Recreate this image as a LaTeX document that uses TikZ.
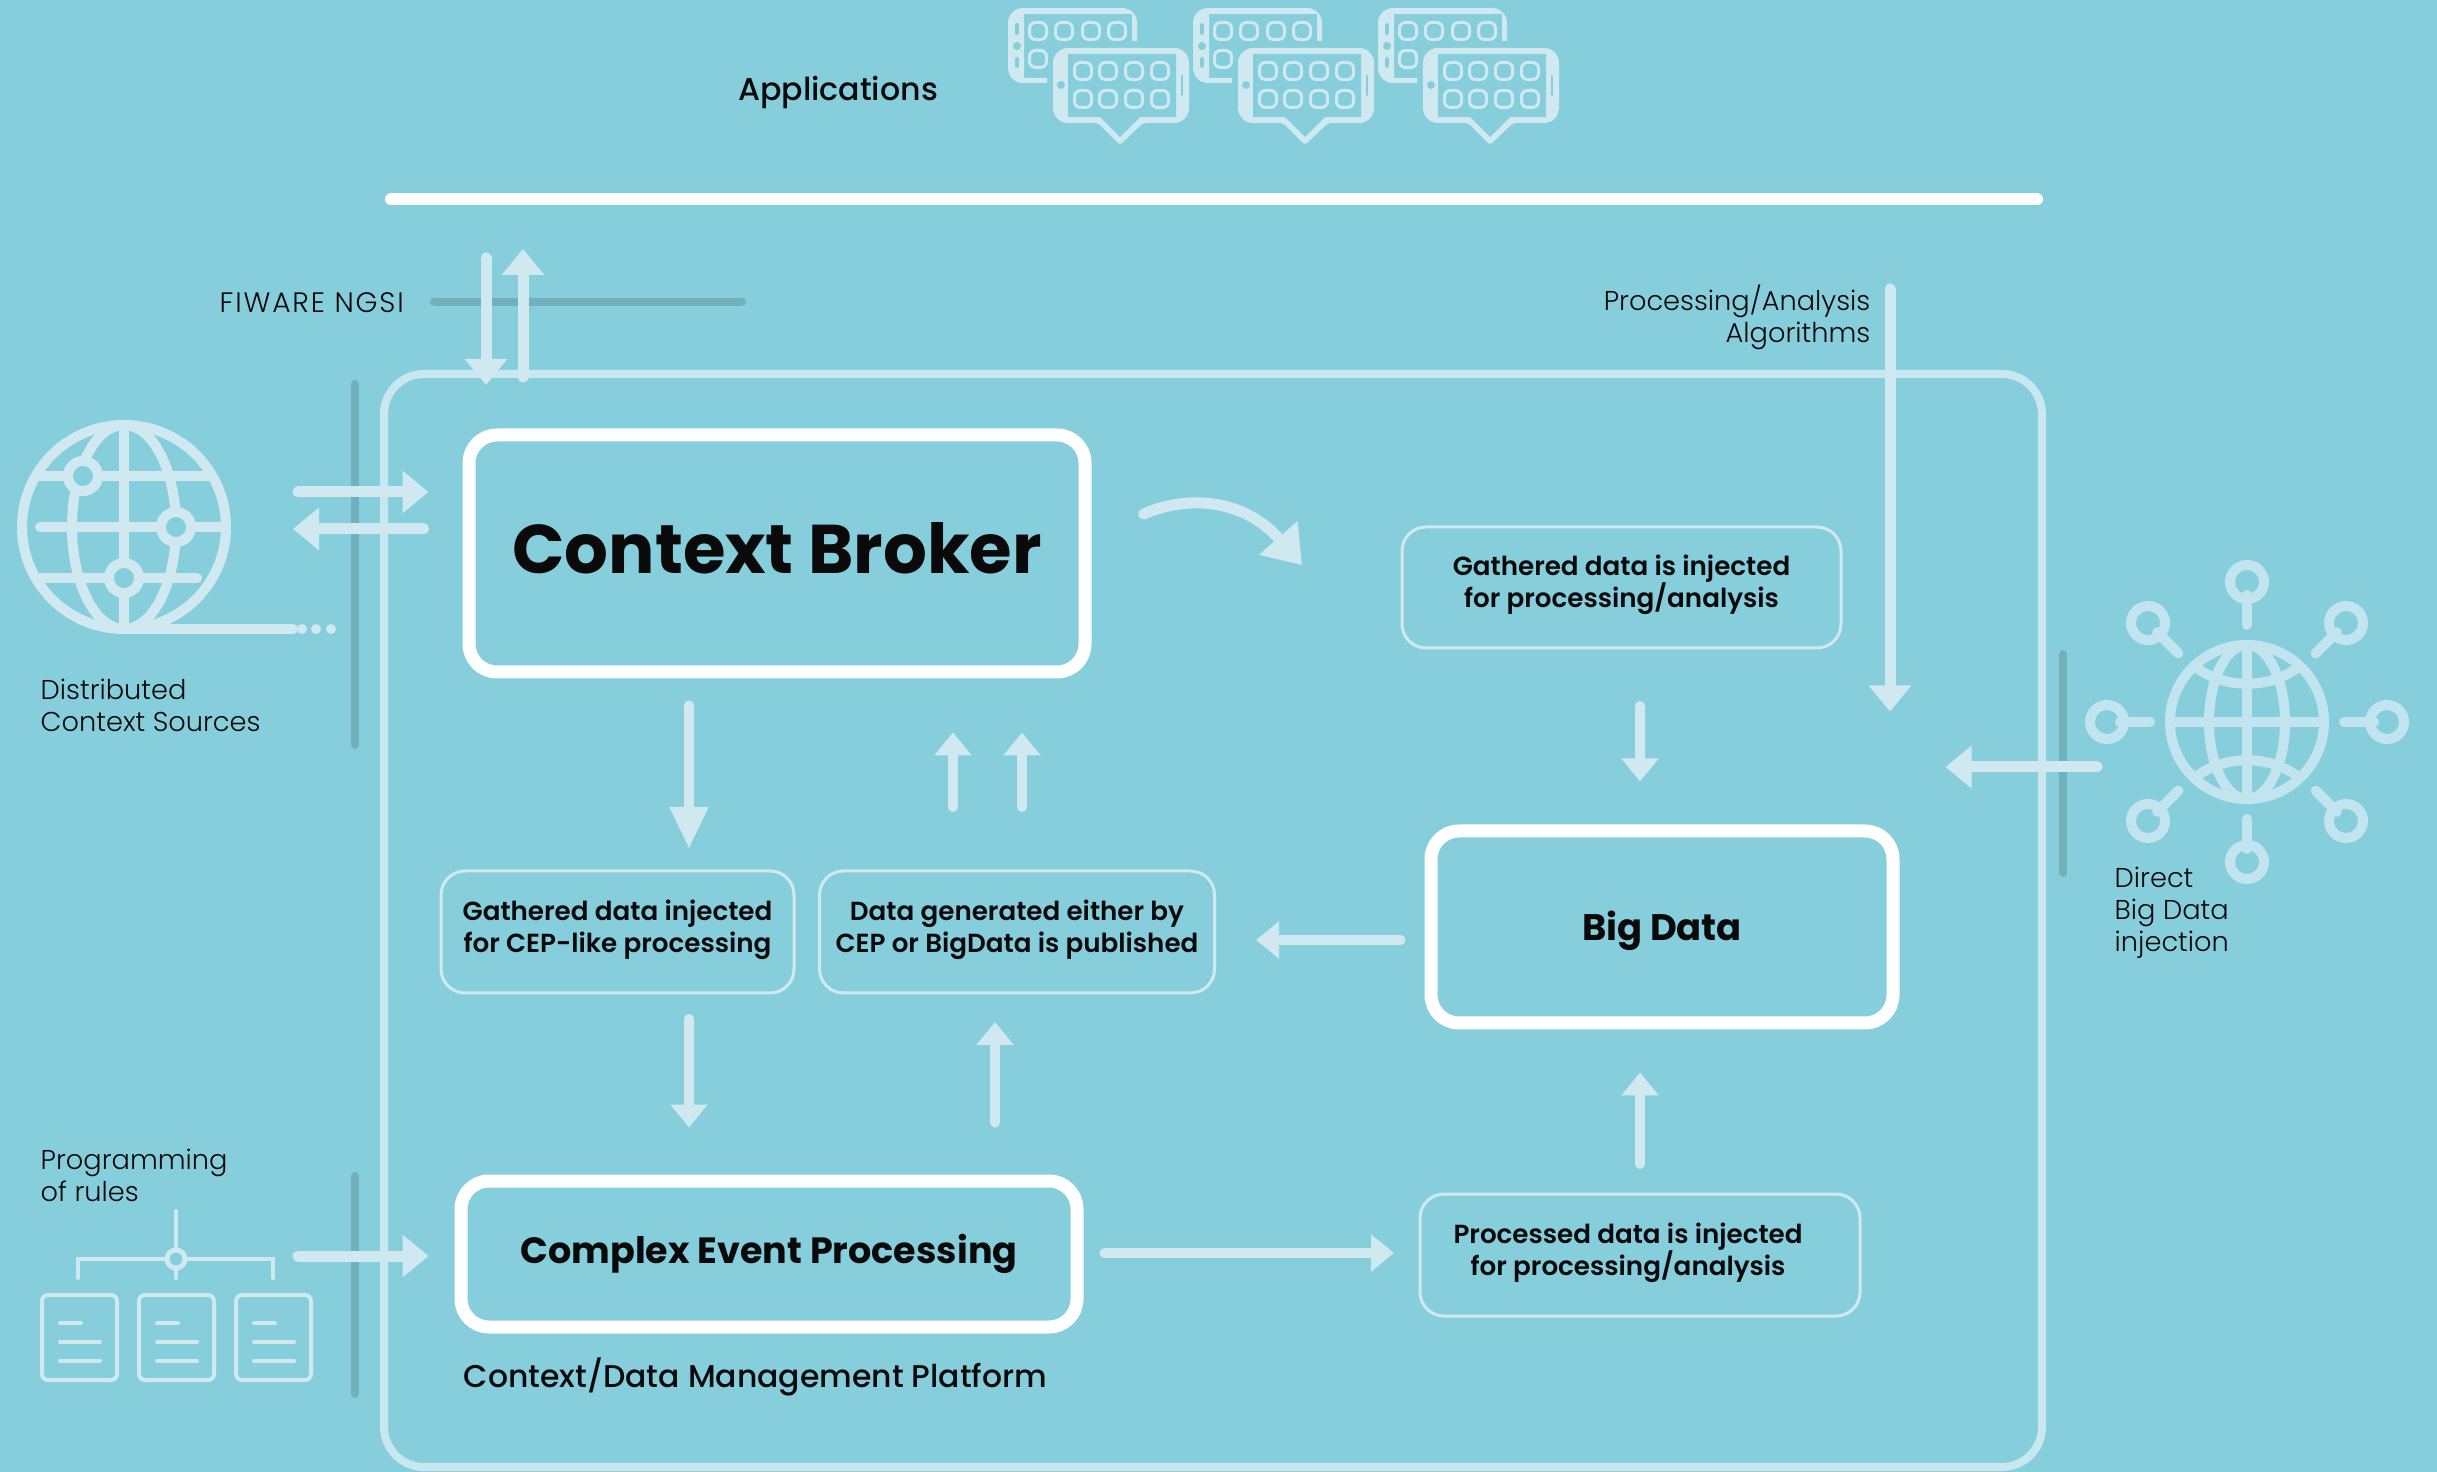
\documentclass[tikz,border=0pt]{standalone}
\usepackage{fontspec}
\setmainfont{Poppins}[UprightFont=* Light,BoldFont=* SemiBold]
\newfontfamily\medfont{Poppins Medium}
\newfontfamily\heavyfont{Poppins Bold}
\newfontfamily\widefont{Poppins Light}[LetterSpace=6.5]
\usetikzlibrary{arrows.meta}
\definecolor{backcol}{HTML}{87CEDC}
\definecolor{lightcol}{HTML}{D0E9F1}
\definecolor{globecol}{HTML}{C2E4EE}
\definecolor{framecol}{HTML}{C8E7EF}
\definecolor{darkcol}{HTML}{72B0BE}
\definecolor{inkcol}{HTML}{0A0A0A}
\tikzset{
  fat/.style={draw=lightcol,line width=1.1mm,line cap=round,shorten <=0.5mm,-{Triangle[length=2.6mm,width=4.1mm]}},
  slim/.style={draw=lightcol,line width=1mm,line cap=round,shorten <=0.5mm,-{Triangle[length=2.3mm,width=3.6mm]}},
  longhead/.style={draw=lightcol,line width=1mm,line cap=round,shorten <=0.5mm,-{Triangle[length=4.2mm,width=3.6mm]}},
  bendy/.style={draw=lightcol,line width=1.1mm,line cap=round,shorten <=0.5mm,-{Triangle[length=3.6mm,width=4.9mm]}},
  darkbar/.style={draw=darkcol,line width=0.8mm,line cap=round,shorten <=0.4mm,shorten >=0.4mm},
  bigbox/.style={draw=white,line width=1.3mm,rounded corners=2.8mm,align=center,text=inkcol},
  thinbox/.style={draw=lightcol,line width=0.3mm,rounded corners=2.4mm,align=center,text=inkcol,
    font=\fontsize{7.45pt}{9.1pt}\selectfont\bfseries},
  txt/.style={text=inkcol,align=left,inner sep=0pt,font=\fontsize{7.75pt}{9.1pt}\selectfont},
  globeline/.style={draw=lightcol,line width=1mm,line cap=round},
  docline/.style={draw=lightcol,line width=0.4mm,line cap=round}
}
\begin{document}
\begin{tikzpicture}[x=0.1mm,y=-0.1mm]
  \useasboundingbox (0,0) rectangle (2437,1472);
  \fill[backcol] (0,0) rectangle (2437,1472);

  % dark bars
  \coordinate (barA) at (430,302);
  \coordinate (barB) at (746,302);
  \coordinate (barC) at (355,380);
  \coordinate (barD) at (355,749);
  \coordinate (barE) at (355,1172);
  \coordinate (barF) at (355,1398);
  \coordinate (barG) at (2063,650);
  \coordinate (barH) at (2063,877);
  \draw[darkbar] (barA) -- (barB);
  \draw[darkbar] (barC) -- (barD);
  \draw[darkbar] (barE) -- (barF);
  \draw[darkbar] (barG) -- (barH);

  % top line and platform
  \coordinate (lineA) at (391,199.5);
  \coordinate (lineB) at (2037,199.5);
  \draw[white,line width=1.2mm,line cap=round] (lineA) -- (lineB);
  \node[draw=framecol,line width=0.8mm,rounded corners=4mm,minimum width=165.8mm,minimum height=109.3mm] (platform) at (1213,920.5) {};

  % boxes
  \node[bigbox,minimum width=61.6mm,minimum height=23.7mm,text depth=3.4pt,font=\fontsize{19.6pt}{24pt}\selectfont\heavyfont] (cb) at (777,553.5) {Context Broker};
  \node[bigbox,minimum width=61.6mm,minimum height=14.6mm,font=\fontsize{10.4pt}{13pt}\selectfont\heavyfont] (cep) at (769,1254) {Complex Event Processing};
  \node[bigbox,minimum width=46.2mm,minimum height=19.2mm,text height=10.5pt,font=\fontsize{10.5pt}{13pt}\selectfont\heavyfont] (bd) at (1662,927) {Big Data};
  \node[thinbox,minimum width=43.9mm,minimum height=12.1mm] (ginject) at (1621.5,587.5) {Gathered data is injected\\for processing/analysis\\[-5.6pt]};
  \node[thinbox,minimum width=35.3mm,minimum height=12.2mm] (gcep) at (617.5,932) {Gathered data injected\\for CEP-like processing\\[-5.6pt]};
  \node[thinbox,minimum width=39.5mm,minimum height=12.2mm] (dgen) at (1017,932) {Data generated either by\\CEP or BigData is published\\[-5.6pt]};
  \node[thinbox,minimum width=44mm,minimum height=12.2mm] (proc) at (1640,1255) {\mbox{Processed data is injected\hspace{6.8pt}}\\\mbox{for processing/analysis\hspace{6.8pt}}\\[-5.6pt]};

  % labels
  \node[txt,font=\fontsize{9pt}{10pt}\selectfont\medfont] (applabel) at (838,92) {Applications};
  \node[txt,anchor=west,font=\fontsize{8pt}{10pt}\selectfont\widefont] (ngsilabel) at (219,303) {FIWARE NGSI};
  \node[txt,anchor=west] (srclabel) at (40,705) {Distributed\\Context Sources};
  \node[txt,anchor=west] (ruleslabel) at (40,1175) {Programming\\of rules};
  \node[txt,anchor=west] (directlabel) at (2114,913) {Direct\\Big Data\\injection};
  \node[txt,anchor=east,align=right] (algolabel) at (1871,317) {Processing/Analysis\\Algorithms};
  \node[txt,anchor=west,font=\fontsize{8.95pt}{11pt}\selectfont\medfont] (platlabel) at (463,1377) {Context/Data Management Platform};

  % arrows between boxes
  \draw[longhead] ([shift={(-88,22)}]cb.south) -- ([shift={(71.5,-20.5)}]gcep.north);
  \draw[slim] ([shift={(-64,-57.5)}]dgen.north) -- ([shift={(176,54)}]cb.south);
  \draw[slim] ([shift={(5,-57.5)}]dgen.north) -- ([shift={(245,54)}]cb.south);
  \draw[slim] ([shift={(71.5,19.5)}]gcep.south) -- ([shift={(-80,-47)}]cep.north);
  \draw[slim] ([shift={(226,-47)}]cep.north) -- ([shift={(-22,27.5)}]dgen.south);
  \draw[slim] ([shift={(-19,13)}]bd.west) -- ([shift={(40,8)}]dgen.east);
  \draw[slim] ([shift={(18.5,51.5)}]ginject.south) -- ([shift={(-22,-43)}]bd.north);
  \draw[slim] ([shift={(0,-23.5)}]proc.north) -- ([shift={(-22,43)}]bd.south);
  \draw[slim] ([shift={(16,-1)}]cep.east) -- ([shift={(-24.5,-2)}]proc.west);

  % arrows from outside
  \coordinate (ngsiA) at (486,253);
  \coordinate (ngsiB) at (486,385);
  \coordinate (ngsiC) at (523,382);
  \coordinate (ngsiD) at (523,249);
  \coordinate (srcOut) at (293,492);
  \coordinate (srcIn) at (293,529);
  \coordinate (rulesOut) at (293,1256);
  \coordinate (directOut) at (2102,767);
  \coordinate (algoOut) at (1890,284);
  \coordinate (curveA) at (1139,516);
  \coordinate (curveB) at (1302,565);
  \draw[fat] (ngsiA) -- (ngsiB);
  \draw[fat] (ngsiC) -- (ngsiD);
  \draw[fat] (srcOut) -- ([shift={(-34,-61.5)}]cb.west);
  \draw[fat] ([shift={(-34,-24.5)}]cb.west) -- (srcIn);
  \draw[fat] (rulesOut) -- ([shift={(-26,2)}]cep.west);
  \draw[fat] (directOut) -- ([shift={(46,-160)}]bd.east);
  \draw[fat] (algoOut) -- ([shift={(228,-113)}]bd.north);
  \draw[bendy] (curveA) .. controls (1190,494) and (1245,500) .. (curveB);

  % applications
  \foreach \d in {0,185,370} {
    \begin{scope}[shift={(\d,0)}]
      \fill[lightcol,rounded corners=1.5mm] (1008,8) -- (1137,8) [sharp corners] -- (1137,41) -- (1132,41) -- (1132,14) -- (1024,14) -- (1024,78) -- (1047,78) -- (1047,83) [rounded corners=1.5mm] -- (1008,83) -- cycle;
      \draw[backcol,line width=0.4mm,line cap=round] (1017,25) -- (1017,33);
      \draw[backcol,line width=0.4mm,line cap=round] (1017,59) -- (1017,66);
      \fill[backcol] (1017,46) circle (4);
      \foreach \x in {1038,1064,1091,1117}
        \draw[lightcol,line width=0.3mm,rounded corners=0.6mm] (\x-8.5,22.5) rectangle (\x+8.5,39.5);
      \draw[lightcol,line width=0.3mm,rounded corners=0.6mm] (1029.5,50.5) rectangle (1046.5,67.5);
      \fill[lightcol,rounded corners=1.5mm] (1053,48) -- (1189,48) -- (1189,123) [rounded corners=0.3mm] -- (1143,123) -- (1120,145) -- (1098,123) [rounded corners=1.5mm] -- (1053,123) -- cycle;
      \fill[backcol] (1068,54) -- (1176,54) -- (1176,117) -- (1140,117) -- (1120,137) -- (1100,117) -- (1068,117) -- cycle;
      \fill[backcol] (1061,85) circle (4);
      \draw[backcol,line width=0.2mm,line cap=round] (1182,76) -- (1182,95);
      \foreach \x in {1083,1108,1134,1160}
        \foreach \y in {71,99}
          \draw[lightcol,line width=0.3mm,rounded corners=0.6mm] (\x-8.5,\y-8.5) rectangle (\x+8.5,\y+8.5);
    \end{scope}
  }

  % globe of sources
  \coordinate (srcG) at (124,527);
  \coordinate (srcTail) at (293,629);
  \draw[globeline] (srcG) ellipse (102 and 102);
  \draw[globeline] (srcG) ellipse (52 and 102);
  \draw[globeline] (124,425) -- (124,629);
  \draw[globeline] (36,476) -- (212,476);
  \draw[globeline] (40,527) -- (226,527);
  \draw[globeline] (36,578) -- (197,578);
  \draw[globeline] (124,629) -- (srcTail);
  \foreach \p in {(83,476),(176,527),(124,578)}
    \draw[globeline,fill=backcol] \p circle (15);
  \foreach \x in {302,316,331}
    \fill[lightcol] (\x,629) circle (5);

  % globe of big data
  \coordinate (bigG) at (2247,722);
  \draw[globeline,draw=globecol] (bigG) ellipse (77 and 77);
  \draw[globeline,draw=globecol] (bigG) ellipse (38 and 77);
  \draw[globeline,draw=globecol] (2247,645) -- (2247,799);
  \draw[globeline,draw=globecol] (2170,722) -- (2324,722);
  \draw[globeline,draw=globecol,line cap=butt] (2197,668) .. controls (2225,689) and (2269,689) .. (2297,668);
  \draw[globeline,draw=globecol,line cap=butt] (2197,776) .. controls (2225,755) and (2269,755) .. (2297,776);
  \foreach \a in {0,45,...,315} {
    \draw[globeline,draw=globecol] (bigG) ++(\a:97) -- ++(\a:30);
    \draw[globeline,draw=globecol] (bigG) ++(\a:140) circle (17);
  }

  % rules
  \draw[docline] (78,1278) -- (78,1259) -- (273,1259) -- (273,1278);
  \draw[docline] (176,1211) -- (176,1278);
  \draw[docline,line width=0.5mm,fill=backcol] (176,1259) circle (9);
  \foreach \x in {42,139,236} {
    \draw[docline,rounded corners=0.6mm] (\x,1295) rectangle (\x+75,1380);
    \draw[docline] (\x+18,1323) -- (\x+39,1323);
    \draw[docline] (\x+18,1342) -- (\x+58,1342);
    \draw[docline] (\x+18,1361) -- (\x+58,1361);
  }
\end{tikzpicture}
\end{document}
